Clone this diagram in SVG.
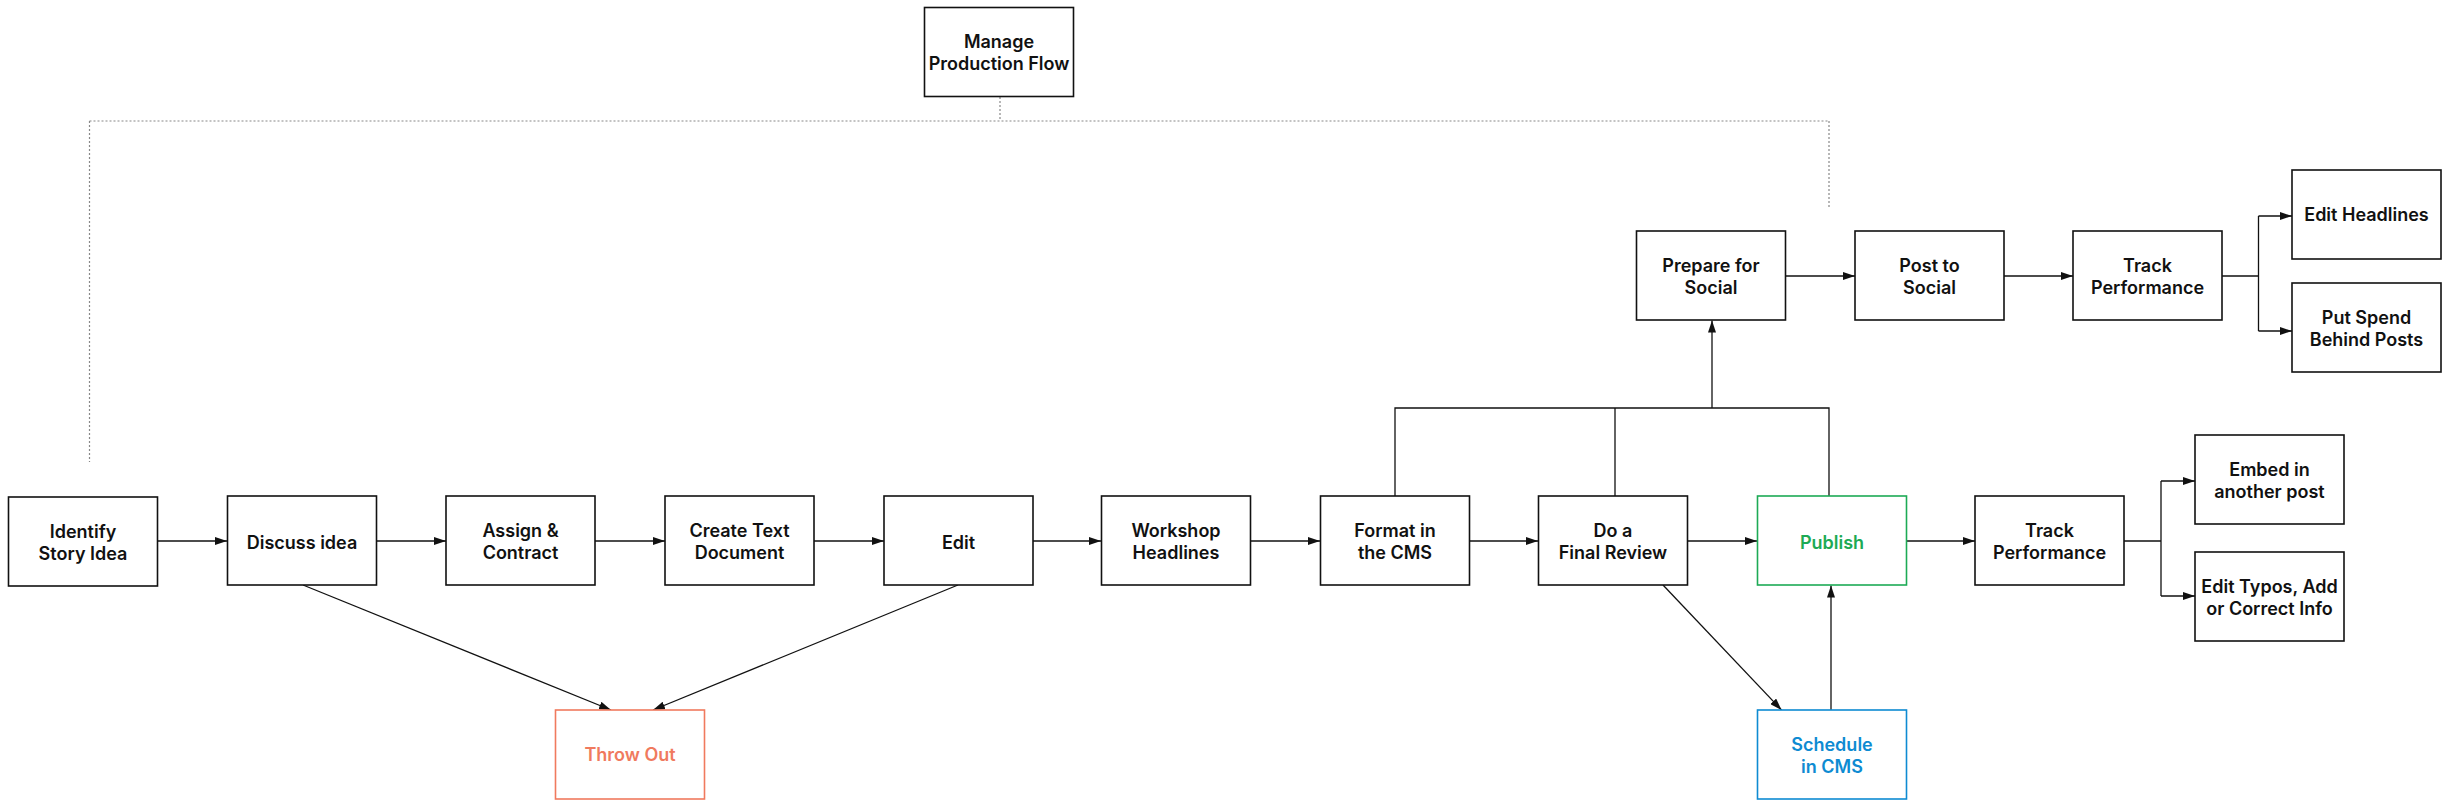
<svg xmlns="http://www.w3.org/2000/svg" width="2449" height="805" viewBox="0 0 2449 805">
<style>
.box{fill:#fff;stroke:#111;stroke-width:1.6}
.t{font-family:Inter,"Liberation Sans",sans-serif;font-weight:600;font-size:18px;fill:#111;text-anchor:middle}
.c{fill:none;stroke:#111;stroke-width:1.3}
.d{fill:none;stroke:#888;stroke-width:1.2;stroke-dasharray:2 2}
.red{stroke:#F07A5E}.redt{fill:#F07A5E}
.grn{stroke:#1DAA55}.grnt{fill:#1DAA55}
.blu{stroke:#0E8BD2}.blut{fill:#0E8BD2}
</style>
<defs>
<marker id="a" markerUnits="userSpaceOnUse" markerWidth="13" markerHeight="8" refX="12" refY="4" orient="auto"><path d="M0,0 L12,4 L0,8 z" fill="#111"/></marker>
</defs>
<rect width="2449" height="805" fill="#fff"/>
<g id="connectors">
<path class="d" d="M1000,97 V121 M89.5,121 H1829 M89.5,121 V462 M1829,121 V207"/>
<path class="c" marker-end="url(#a)" d="M157.5,541 H227"/>
<path class="c" marker-end="url(#a)" d="M376.5,541 H446"/>
<path class="c" marker-end="url(#a)" d="M595,541 H665"/>
<path class="c" marker-end="url(#a)" d="M814,541 H884"/>
<path class="c" marker-end="url(#a)" d="M1033,541 H1101"/>
<path class="c" marker-end="url(#a)" d="M1250.5,541 H1320"/>
<path class="c" marker-end="url(#a)" d="M1469.5,541 H1538"/>
<path class="c" marker-end="url(#a)" d="M1687.5,541 H1757"/>
<path class="c" marker-end="url(#a)" d="M1906.5,541 H1975"/>
<path class="c" marker-end="url(#a)" d="M303,585 L611,710"/>
<path class="c" marker-end="url(#a)" d="M958,585 L653,710"/>
<path class="c" marker-end="url(#a)" d="M1663,585 L1781.5,710"/>
<path class="c" marker-end="url(#a)" d="M1831,710 V585.5"/>
<path class="c" d="M1395,496 V408 H1829 V496 M1615,408 V496"/>
<path class="c" marker-end="url(#a)" d="M1712,408 V320.5"/>
<path class="c" marker-end="url(#a)" d="M1785.5,276 H1855"/>
<path class="c" marker-end="url(#a)" d="M2004,276 H2073"/>
<path class="c" d="M2222,276 H2258.5 M2258.5,216 V331"/>
<path class="c" marker-end="url(#a)" d="M2258.5,216 H2292"/>
<path class="c" marker-end="url(#a)" d="M2258.5,331 H2292"/>
<path class="c" d="M2124,541 H2161 M2161,481 V596"/>
<path class="c" marker-end="url(#a)" d="M2161,481 H2195"/>
<path class="c" marker-end="url(#a)" d="M2161,596 H2195"/>
</g>
<g id="manage"><rect class="box" x="924.5" y="7.5" width="149" height="89"/><text class="t" x="999" y="48">Manage</text><text class="t" x="999" y="70">Production Flow</text></g>
<g id="identify"><rect class="box" x="8.5" y="497" width="149" height="89"/><text class="t" x="83" y="538">Identify</text><text class="t" x="83" y="560">Story Idea</text></g>
<g id="discuss"><rect class="box" x="227.5" y="496" width="149" height="89"/><text class="t" x="302" y="549">Discuss idea</text></g>
<g id="assign"><rect class="box" x="446" y="496" width="149" height="89"/><text class="t" x="520.5" y="537">Assign &amp;</text><text class="t" x="520.5" y="559">Contract</text></g>
<g id="create"><rect class="box" x="665" y="496" width="149" height="89"/><text class="t" x="739.5" y="537">Create Text</text><text class="t" x="739.5" y="559">Document</text></g>
<g id="edit"><rect class="box" x="884" y="496" width="149" height="89"/><text class="t" x="958.5" y="549">Edit</text></g>
<g id="workshop"><rect class="box" x="1101.5" y="496" width="149" height="89"/><text class="t" x="1176" y="537">Workshop</text><text class="t" x="1176" y="559">Headlines</text></g>
<g id="format"><rect class="box" x="1320.5" y="496" width="149" height="89"/><text class="t" x="1395" y="537">Format in</text><text class="t" x="1395" y="559">the CMS</text></g>
<g id="review"><rect class="box" x="1538.5" y="496" width="149" height="89"/><text class="t" x="1613" y="537">Do a</text><text class="t" x="1613" y="559">Final Review</text></g>
<g id="publish"><rect class="box grn" x="1757.5" y="496" width="149" height="89"/><text class="t grnt" x="1832" y="549">Publish</text></g>
<g id="track"><rect class="box" x="1975" y="496" width="149" height="89"/><text class="t" x="2049.5" y="537">Track</text><text class="t" x="2049.5" y="559">Performance</text></g>
<g id="throwout"><rect class="box red" x="555.5" y="710" width="149" height="89"/><text class="t redt" x="630" y="761">Throw Out</text></g>
<g id="schedule"><rect class="box blu" x="1757.5" y="710" width="149" height="89"/><text class="t blut" x="1832" y="751">Schedule</text><text class="t blut" x="1832" y="773">in CMS</text></g>
<g id="prepare"><rect class="box" x="1636.5" y="231" width="149" height="89"/><text class="t" x="1711" y="272">Prepare for</text><text class="t" x="1711" y="294">Social</text></g>
<g id="post"><rect class="box" x="1855" y="231" width="149" height="89"/><text class="t" x="1929.5" y="272">Post to</text><text class="t" x="1929.5" y="294">Social</text></g>
<g id="track-social"><rect class="box" x="2073" y="231" width="149" height="89"/><text class="t" x="2147.5" y="272">Track</text><text class="t" x="2147.5" y="294">Performance</text></g>
<g id="edit-headlines"><rect class="box" x="2292" y="170" width="149" height="89"/><text class="t" x="2366.5" y="221">Edit Headlines</text></g>
<g id="put-spend"><rect class="box" x="2292" y="283" width="149" height="89"/><text class="t" x="2366.5" y="324">Put Spend</text><text class="t" x="2366.5" y="346">Behind Posts</text></g>
<g id="embed"><rect class="box" x="2195" y="435" width="149" height="89"/><text class="t" x="2269.5" y="476">Embed in</text><text class="t" x="2269.5" y="498">another post</text></g>
<g id="edit-typos"><rect class="box" x="2195" y="552" width="149" height="89"/><text class="t" x="2269.5" y="593">Edit Typos, Add</text><text class="t" x="2269.5" y="615">or Correct Info</text></g>
</svg>
